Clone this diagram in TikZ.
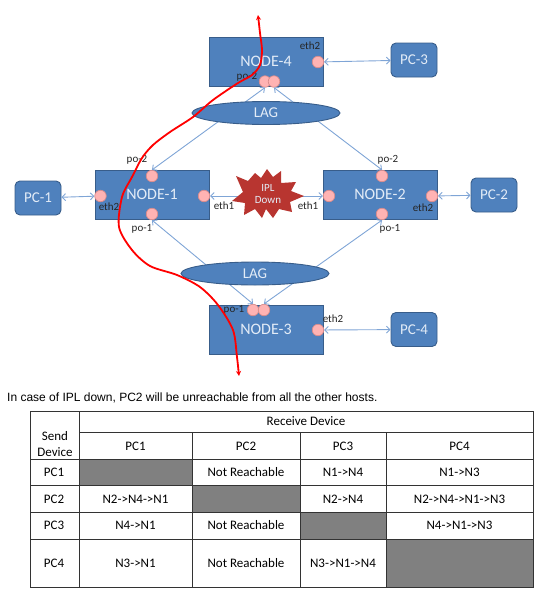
\documentclass[tikz,border=0pt]{standalone}
\usepackage{fontspec}
\setmainfont{Carlito}
\newfontfamily\captionfont{Liberation Sans}
\usetikzlibrary{arrows.meta,shapes.geometric}
\definecolor{boxblue}{HTML}{4F81BD}
\definecolor{boxedge}{HTML}{385D8A}
\definecolor{linkblue}{HTML}{7FA5D6}
\definecolor{boxtext}{HTML}{E3ECF7}
\definecolor{portpink}{HTML}{FFB3B3}
\definecolor{portedge}{HTML}{D98C8C}
\definecolor{starred}{HTML}{B83530}
\definecolor{cellgray}{HTML}{808080}
\definecolor{gridgray}{HTML}{333333}
\tikzset{
  nodebox/.style={draw=boxedge,fill=boxblue,line width=0.9pt,minimum width=114pt,minimum height=49pt,inner sep=0pt,text=boxtext,font=\fontsize{16}{16}\selectfont},
  pcbox/.style={draw=boxedge,fill=boxblue,line width=0.9pt,rounded corners=5pt,minimum width=46pt,minimum height=34pt,inner sep=0pt,text=boxtext,font=\fontsize{15}{15}\selectfont},
  lagoval/.style={draw=boxedge,fill=boxblue,line width=0.9pt,ellipse,minimum width=148pt,minimum height=23pt,inner sep=0pt,text=boxtext,font=\fontsize{15}{15}\selectfont},
  port/.style={circle,draw=portedge,fill=portpink,line width=0.7pt,minimum size=11.5pt,inner sep=0pt},
  portlabel/.style={inner sep=0pt,text=black!85,font=\fontsize{11}{11}\selectfont},
  link/.style={draw=linkblue,line width=0.9pt,<->,>={Straight Barb[length=3.5pt,width=7pt]}},
  cell/.style={inner sep=0pt,align=center,text=black,font=\fontsize{13}{16}\selectfont},
  grayfill/.style={fill=cellgray},
}
\begin{document}
\begin{tikzpicture}[x=1pt,y=-1pt]
  \useasboundingbox (0,0) rectangle (554,606);
  % Switches
  \node[nodebox] (node4) at (266,61.5) {NODE-4};
  \node[nodebox] (node1) at (152,194.5) {NODE-1};
  \node[nodebox] (node2) at (380,194.5) {NODE-2};
  \node[nodebox] (node3) at (266,329.5) {NODE-3};
  % Hosts
  \node[pcbox] (pc3) at (414,60) {PC-3};
  \node[pcbox] (pc1) at (38,198) {PC-1};
  \node[pcbox] (pc2) at (494,195) {PC-2};
  \node[pcbox] (pc4) at (414,329.5) {PC-4};
  % Ports
  \node[port] (n4eth) at (318,62) {};
  \node[port] (n4poa) at (265,81.5) {};
  \node[port] (n4pob) at (274,81.5) {};
  \node[port] (n1top) at (152,176) {};
  \node[port] (n1eth) at (100.5,196) {};
  \node[port] (n1ipl) at (204,196) {};
  \node[port] (n1bot) at (152,214) {};
  \node[port] (n2top) at (382,176) {};
  \node[port] (n2ipl) at (329,196) {};
  \node[port] (n2eth) at (432,196) {};
  \node[port] (n2bot) at (382,214) {};
  \node[port] (n3poa) at (253,310) {};
  \node[port] (n3pob) at (264,310) {};
  \node[port] (n3eth) at (318,330) {};
  % Links
  \draw[link] (n4eth) -- (pc3);
  \draw[link] (pc1) -- (n1eth);
  \draw[link] (n2eth) -- (pc2);
  \draw[link] (n3eth) -- (pc4);
  \draw[link] (n1ipl) -- (n2ipl);
  \draw[link] (n1top.north) -- (n4poa.south);
  \draw[link] (n2top.north) -- (n4pob.south);
  \draw[link] (n1bot.south) -- (n3poa.north);
  \draw[link] (n2bot.south) -- (n3pob.north);
  % LAG ovals
  \node[lagoval] (lagtop) at (266,113) {LAG};
  \node[lagoval] (lagbot) at (255,273.5) {LAG};
  % IPL burst
  \fill[starred] (236,176) -- (248,181) -- (255,173) -- (261,178) -- (267,169) -- (273,177)
    -- (281,171) -- (281,183) -- (296,182) -- (291,191) -- (304,196) -- (290,202) -- (292,212)
    -- (279,209) -- (273,218) -- (266,209) -- (262,218) -- (255,209) -- (244,215) -- (245,203)
    -- (232,201) -- (243,192) -- cycle;
  \node[inner sep=0pt,align=center,text=boxtext,font=\fontsize{11}{12.5}\selectfont] (ipl) at (268,194) {IPL\\Down};
  % Port labels
  \node[portlabel] (l4eth) at (310,46) {eth2};
  \node[portlabel] (l4po) at (247,77) {po-2};
  \node[portlabel] (l1top) at (137,160) {po-2};
  \node[portlabel] (l1eth) at (109,207) {eth2};
  \node[portlabel] (l1ipl) at (224,206) {eth1};
  \node[portlabel] (l1bot) at (142,229) {po-1};
  \node[portlabel] (l2top) at (388,160) {po-2};
  \node[portlabel] (l2ipl) at (308,206) {eth1};
  \node[portlabel] (l2eth) at (423,208) {eth2};
  \node[portlabel] (l2bot) at (390,229) {po-1};
  \node[portlabel] (l3po) at (234,310) {po-1};
  \node[portlabel] (l3eth) at (333,319) {eth2};
  % Traffic path
  \draw[red,line width=1.8pt,line join=round,{Stealth[length=5pt,width=5pt]}-{Stealth[length=5pt,width=5pt]}]
    plot[smooth,tension=0.5] coordinates {(258,15) (260,33) (262,50) (260,65) (252,75) (238,83) (213,100)
    (193,117) (170,132) (153,145) (142,158) (132,177) (122,197) (119,227) (132,250) (150,266)
    (177,275) (200,287) (218,305) (233,330) (237,357) (239,376)};
  % Caption
  \node[anchor=west,inner sep=0pt,text=black,font=\captionfont\fontsize{12}{12}\selectfont] (caption) at (7,397.5) {In case of IPL down, PC2 will be unreachable from all the other hosts.};
  % Gray cells
  \fill[grayfill] (79,459) rectangle (192.5,485);
  \fill[grayfill] (192.5,485) rectangle (300,512);
  \fill[grayfill] (300,512) rectangle (386.5,539);
  \fill[grayfill] (386.5,539) rectangle (533,587);
  % Grid
  \draw[gridgray,line width=1pt] (30,411) rectangle (533,587);
  \draw[gridgray,line width=1pt] (79,411) -- (79,587);
  \draw[gridgray,line width=1pt] (79,432) -- (533,432);
  \draw[gridgray,line width=1pt] (192.5,432) -- (192.5,587);
  \draw[gridgray,line width=1pt] (300,432) -- (300,587);
  \draw[gridgray,line width=1pt] (386.5,432) -- (386.5,587);
  \draw[gridgray,line width=1pt] (30,459) -- (533,459);
  \draw[gridgray,line width=1pt] (30,485) -- (533,485);
  \draw[gridgray,line width=1pt] (30,512) -- (533,512);
  \draw[gridgray,line width=1pt] (30,539) -- (533,539);
  % Table text
  \node[cell] (send) at (55,444) {Send\\Device};
  \node[cell] (recv) at (306,421.5) {Receive Device};
  \node[cell] (h1) at (135.5,446) {PC1};
  \node[cell] (h2) at (246,446) {PC2};
  \node[cell] (h3) at (343,446) {PC3};
  \node[cell] (h4) at (459.5,446) {PC4};
  \node[cell] (r1) at (54,472) {PC1};
  \node[cell] (r2) at (54,499) {PC2};
  \node[cell] (r3) at (54,525.5) {PC3};
  \node[cell] (r4) at (54,563) {PC4};
  \node[cell] (c12) at (246,472) {Not Reachable};
  \node[cell] (c13) at (343,472) {N1->N4};
  \node[cell] (c14) at (459.5,472) {N1->N3};
  \node[cell] (c21) at (135.5,499) {N2->N4->N1};
  \node[cell] (c23) at (343,499) {N2->N4};
  \node[cell] (c24) at (459.5,499) {N2->N4->N1->N3};
  \node[cell] (c31) at (135.5,525.5) {N4->N1};
  \node[cell] (c32) at (246,525.5) {Not Reachable};
  \node[cell] (c34) at (459.5,525.5) {N4->N1->N3};
  \node[cell] (c41) at (135.5,563) {N3->N1};
  \node[cell] (c42) at (246,563) {Not Reachable};
  \node[cell] (c43) at (343,563) {N3->N1->N4};
\end{tikzpicture}
\end{document}
